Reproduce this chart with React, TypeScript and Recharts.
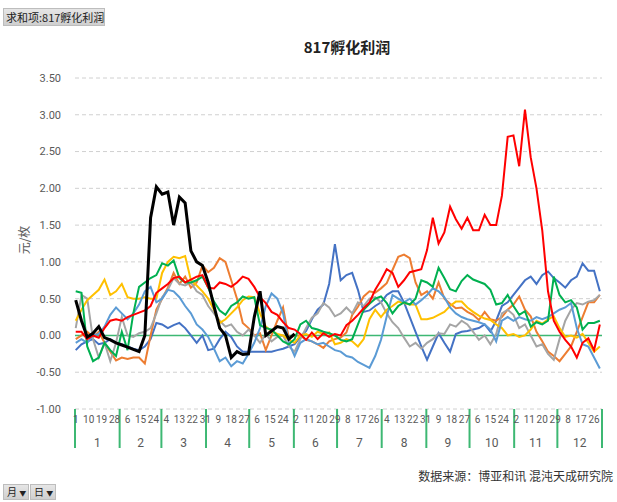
import React from "react";
import { LineChart, Line, XAxis, YAxis, CartesianGrid, ReferenceLine } from "recharts";

// 2020 is a leap year: one category per calendar day
const monthDays = [31, 29, 31, 30, 31, 30, 31, 31, 30, 31, 30, 31];
const monthNames = ["1", "2", "3", "4", "5", "6", "7", "8", "9", "10", "11", "12"];
const yTicks = [-1, -0.5, 0, 0.5, 1, 1.5, 2, 2.5, 3, 3.5];
const sampleStep = 4; // one reading every 4 days

// 元/枚, every 4 days from Jan 1
const y2013 = [
  -0.2, -0.12, -0.08, -0.05, -0.12, -0.1, -0.05, -0.1, -0.12, -0.15,
  -0.18, -0.2, -0.15, -0.05, 0.17, 0.15, 0.1, 0.14, 0.17, 0.1,
  0.0, -0.1, 0.0, -0.2, -0.18, -0.05, 0.05, -0.02, -0.15, -0.22,
  -0.22, -0.22, -0.22, -0.22, -0.22, -0.2, -0.18, -0.15, -0.12, -0.02,
  0.06, 0.22, 0.35, 0.42, 0.7, 1.24, 0.75, 0.82, 0.85, 0.62,
  0.32, 0.34, 0.4, 0.45, 0.55, 0.6, 0.6, 0.45, 0.25, 0.05,
  -0.15, -0.33, -0.15, 0.03, -0.1, -0.22, 0.02, 0.05, 0.06, 0.08,
  0.1, 0.15, 0.05, 0.2, 0.4, 0.45, 0.55, 0.65, 0.75, 0.8,
  0.7, 0.82, 0.87, 0.78, 0.72, 0.65, 0.75, 0.8, 0.98, 0.88,
  0.88, 0.6,
];
const y2014 = [
  -0.05, 0.0, 0.05, -0.02, 0.05, -0.1, -0.22, -0.34, -0.3, -0.32,
  -0.3, -0.3, -0.38, 0.0, 0.35, 0.5, 0.65, 0.85, 0.7, 0.8,
  0.65, 0.72, 0.95, 0.86, 0.92, 1.05, 1.0, 0.75, 0.5, 0.17,
  0.1, 0.0, 0.03, -0.2, 0.0, 0.2, 0.38, -0.04, 0.0, 0.0,
  -0.06, -0.08, -0.12, -0.17, -0.08, -0.05, -0.03, 0.04, 0.28, 0.39,
  0.53, 0.6, 0.58, 0.64, 0.71, 0.89, 1.07, 1.1, 1.05, 0.72,
  0.55, 0.6, 0.5, 0.72, 0.5, 0.43, 0.37, 0.38, 0.32, 0.28,
  0.21, 0.32, 0.22, 0.2, 0.25, 0.35, 0.42, 0.53, 0.35, 0.26,
  0.05, -0.08, -0.22, -0.28, -0.35, -0.25, -0.15, 0.05, 0.25, 0.45,
  0.45, 0.55,
];
const y2015 = [
  0.1, 0.55, 0.5, -0.05, -0.3, -0.1, -0.35, -0.1, 0.25, 0.0,
  -0.02, 0.03, 0.05, 0.1, 0.3, 0.52, 0.62, 0.78, 0.7, 0.68,
  0.72, 0.6, 0.55, 0.4, 0.3, 0.2, 0.12, 0.15, 0.05, 0.0,
  0.08, 0.0, -0.1, 0.02, -0.08, -0.02, 0.0, -0.15, -0.22, -0.05,
  0.1, 0.24, 0.3, 0.44, 0.38, 0.26, 0.3, 0.38, 0.3, 0.45,
  0.4, 0.5, 0.52, 0.45, 0.3, 0.18, 0.1, -0.03, -0.15, -0.1,
  -0.18, -0.1, -0.05, 0.03, 0.02, 0.15, 0.12, 0.2, 0.15, 0.05,
  -0.06, 0.0, -0.12, 0.02, 0.3, 0.35, 0.28, 0.1, 0.15, 0.0,
  -0.15, -0.12, -0.25, -0.33, -0.05, 0.2, 0.35, 0.44, 0.42, 0.46,
  0.48, 0.55,
];
const y2016 = [
  0.2, 0.35, 0.48, 0.55, 0.62, 0.76, 0.55, 0.6, 0.7, 0.52,
  0.5, 0.5, 0.52, 0.5, 0.5, 0.85, 1.0, 1.07, 1.05, 1.08,
  0.75, 0.68, 0.6, 0.5, 0.35, 0.17, 0.22, 0.3, 0.38, 0.48,
  0.53, 0.52, 0.3, 0.12, 0.06, 0.02, 0.0, -0.06, -0.1, 0.0,
  0.02, -0.02, 0.05, 0.02, 0.04, -0.12, -0.1, -0.05, -0.08, -0.15,
  -0.05, 0.22, 0.35, 0.25, 0.35, 0.4, 0.46, 0.44, 0.42, 0.42,
  0.22, 0.22, 0.24, 0.28, 0.32, 0.4, 0.46, 0.46, 0.38, 0.32,
  0.27, 0.23, 0.21, 0.15, 0.1, 0.0, 0.02, -0.02, 0.0, 0.08,
  0.2, 0.16, 0.22, 0.26, 0.1, -0.02, 0.0, -0.03, 0.02, -0.1,
  -0.22, -0.15,
];
const y2017 = [
  -0.1, -0.05, -0.1, 0.0, 0.02, 0.12, 0.28, 0.38, 0.3, 0.22,
  0.3, 0.42, 0.6, 0.66, 0.45, 0.5, 0.62, 0.6, 0.52, 0.4,
  0.3, 0.15, 0.08, -0.02, -0.18, -0.35, -0.3, -0.42, -0.35, -0.38,
  -0.25, -0.1, 0.1, 0.4, 0.57, 0.5, 0.3, -0.1, -0.28, -0.1,
  -0.05, -0.08, -0.12, -0.1, -0.15, -0.2, -0.22, -0.28, -0.3, -0.36,
  -0.4, -0.44, -0.28, -0.06, 0.26, 0.55, 0.5, 0.45, 0.5, 0.42,
  0.48, 0.55, 0.64, 0.6, 0.52, 0.38, 0.3, 0.25, 0.22, 0.2,
  0.18, 0.15, 0.08, -0.08, 0.2, 0.25, 0.2, 0.25, 0.22, 0.2,
  0.25, 0.22, 0.25, 0.3, 0.35, 0.38, 0.44, 0.1, -0.12, -0.15,
  -0.3, -0.45,
];
const y2018 = [
  0.6, 0.58, -0.15, -0.35, -0.3, -0.1, -0.2, -0.28, 0.05, -0.2,
  0.3, 0.66, 0.72, 0.78, 0.82, 0.98, 0.95, 1.02, 0.78, 0.72,
  0.72, 0.75, 0.8, 0.65, 0.46, 0.34, 0.28, 0.4, 0.45, 0.53,
  0.5, 0.52, 0.14, 0.1, 0.08, 0.0, -0.08, -0.12, -0.05, 0.15,
  0.2, 0.1, 0.08, 0.05, 0.03, 0.0, -0.06, -0.08, -0.05, 0.15,
  0.35, 0.43, 0.5, 0.53, 0.44, 0.3, 0.4, 0.45, 0.42, 0.5,
  0.75, 0.72, 0.66, 0.92, 0.78, 0.63, 0.6, 0.74, 0.82, 0.76,
  0.73, 0.7, 0.62, 0.42, 0.44, 0.55, 0.4, 0.28, 0.33, 0.12,
  0.18, 0.15, 0.2, 0.8, 0.55, 0.45, 0.48, 0.38, 0.08, 0.17,
  0.17, 0.2,
];
const y2019 = [
  0.05, 0.05, -0.05, 0.0, -0.03, 0.1, 0.2, 0.22, 0.2, 0.25,
  0.28, 0.31, 0.34, 0.4, 0.58, 0.64, 0.7, 0.78, 0.8, 0.72,
  0.76, 0.8, 0.82, 0.65, 0.64, 0.72, 0.7, 0.66, 0.72, 0.8,
  0.77, 0.66, 0.52, 0.44, 0.32, 0.28, 0.18, 0.1, 0.08, 0.02,
  -0.06, 0.04, -0.05, 0.03, -0.02, 0.02, 0.0, 0.14, 0.2, 0.28,
  0.37, 0.45, 0.62, 0.75, 0.9, 0.85, 0.66, 0.75, 0.86, 0.88,
  0.9, 1.16, 1.6, 1.25, 1.4, 1.75, 1.58, 1.45, 1.6, 1.43,
  1.43, 1.64, 1.5, 1.5, 1.9, 2.7, 2.72, 2.3, 3.07, 2.42,
  2.0, 1.43, 0.6, 0.2, 0.05, -0.06, -0.15, -0.3, -0.1, -0.04,
  -0.2, 0.15,
];
const y2020 = [
  0.48, 0.2, -0.02, 0.03, 0.12, -0.03, -0.06, -0.1, -0.13, -0.16,
  -0.19, -0.22, 0.0, 1.6, 2.02, 1.92, 1.95, 1.5, 1.88, 1.8,
  1.15, 1.0, 0.95, 0.72, 0.4, 0.1, 0.0, -0.3, -0.22, -0.26,
  -0.25, 0.25, 0.6, 0.0, 0.06, 0.12, 0.1, -0.05, 0.02,
];

const series = [
  { key: "y2013", values: y2013, color: "#4472C4", width: 2 },
  { key: "y2014", values: y2014, color: "#ED7D31", width: 2 },
  { key: "y2015", values: y2015, color: "#A5A5A5", width: 2 },
  { key: "y2016", values: y2016, color: "#FFC000", width: 2 },
  { key: "y2017", values: y2017, color: "#5B9BD5", width: 2 },
  { key: "y2018", values: y2018, color: "#00B050", width: 2 },
  { key: "y2019", values: y2019, color: "#FF0000", width: 2 },
  { key: "y2020", values: y2020, color: "#000000", width: 3 },
];

const rows = y2013.map((_, i) => {
  const row: Record<string, number | undefined> = { d: i * sampleStep };
  series.forEach((s) => {
    row[s.key] = s.values[i];
  });
  return row;
});

// month boundaries / centres in day-index units
const monthStarts = monthDays.map((_, m) => monthDays.slice(0, m).reduce((a, b) => a + b, 0));
const monthEdges = [...monthStarts.map((s) => s - 0.5), 365.5];
const monthCenters = monthStarts.map((s, m) => s - 0.5 + monthDays[m] / 2);
const dayTicks = Array.from({ length: 41 }, (_, i) => i * 9);

const dayOfMonth = (idx: number) => {
  let rest = Math.round(idx);
  for (const len of monthDays) {
    if (rest < len) return rest + 1;
    rest -= len;
  }
  return rest + 1;
};

const monthOf = (c: number) => {
  const i = monthCenters.findIndex((m) => Math.abs(m - c) < 1);
  return i >= 0 ? monthNames[i] : "";
};

const GREEN = "#3DB873";
const AXIS_TEXT = "#595959";

export default function App() {
  return (
    <div
      style={{
        position: "absolute",
        left: 0,
        top: 0,
        width: 617,
        height: 502,
        background: "#fff",
        fontFamily: "'Noto Sans CJK SC', 'Noto Sans', sans-serif",
        overflow: "hidden",
      }}
    >
      {/* pivot field button */}
      <div
        style={{
          position: "absolute",
          left: 3,
          top: 8,
          width: 102,
          height: 18,
          background: "linear-gradient(#e6e6e6, #cfcfcf)",
          border: "1px solid #bdbdbd",
          boxSizing: "border-box",
          fontSize: 11,
          lineHeight: "16px",
          paddingLeft: 2,
          color: "#222",
          whiteSpace: "nowrap",
        }}
      >
        求和项:817孵化利润
      </div>

      <div
        style={{
          position: "absolute",
          left: 0,
          width: 694,
          top: 36,
          textAlign: "center",
          fontSize: 15,
          fontWeight: 700,
          color: "#222",
        }}
      >
        817孵化利润
      </div>

      <div
        style={{
          position: "absolute",
          left: 23,
          top: 240,
          transform: "translate(-50%, -50%) rotate(-90deg)",
          fontSize: 12,
          color: AXIS_TEXT,
          whiteSpace: "nowrap",
        }}
      >
        元/枚
      </div>

      <LineChart
        width={617}
        height={502}
        data={rows}
        margin={{ top: 78, right: 15, bottom: 44, left: 25 }}
        style={{ position: "absolute", left: 0, top: 0 }}
      >
        <CartesianGrid
          xAxisId="day"
          vertical={false}
          stroke="#d0d0d0"
          strokeDasharray="4 3"
        />
        <XAxis
          xAxisId="aSep"
          type="number"
          dataKey="d"
          domain={[-0.5, 365.5]}
          ticks={monthEdges}
          interval={0}
          height={1}
          axisLine={false}
          tickSize={39}
          tickLine={{ stroke: GREEN, strokeWidth: 2 }}
          tick={() => <g />}
        />
        <XAxis
          xAxisId="day"
          type="number"
          dataKey="d"
          domain={[-0.5, 365.5]}
          ticks={dayTicks}
          interval={0}
          height={22}
          axisLine={false}
          tickLine={false}
          tickSize={0}
          tickMargin={6}
          tickFormatter={dayOfMonth}
          tick={{ fontSize: 10, fill: AXIS_TEXT, fontFamily: "Roboto, sans-serif" }}
        />
        <XAxis
          xAxisId="mon"
          type="number"
          dataKey="d"
          domain={[-0.5, 365.5]}
          ticks={monthCenters}
          interval={0}
          height={26}
          axisLine={false}
          tickLine={false}
          tickSize={0}
          tickMargin={6}
          tickFormatter={monthOf}
          tick={{ fontSize: 12, fill: AXIS_TEXT, fontFamily: "Roboto, sans-serif" }}
        />
        <YAxis
          type="number"
          domain={[-1, 3.5]}
          ticks={yTicks}
          interval={0}
          width={50}
          axisLine={false}
          tickLine={false}
          tickSize={0}
          tickMargin={14}
          tickFormatter={(v: number) => v.toFixed(2)}
          tick={{ fontSize: 11, fill: AXIS_TEXT, fontFamily: "Roboto, sans-serif" }}
        />
        <ReferenceLine xAxisId="day" y={0} stroke={GREEN} strokeWidth={1.5} />
        {series.map((s) => (
          <Line
            key={s.key}
            xAxisId="day"
            dataKey={s.key}
            type="linear"
            stroke={s.color}
            strokeWidth={s.width}
            dot={false}
            activeDot={false}
            isAnimationActive={false}
          />
        ))}
      </LineChart>

      <div
        style={{
          position: "absolute",
          right: 4,
          top: 467,
          fontSize: 12,
          color: "#333",
          whiteSpace: "nowrap",
        }}
      >
        数据来源：博亚和讯 混沌天成研究院
      </div>

      {["月", "日"].map((t, i) => (
        <div
          key={t}
          style={{
            position: "absolute",
            left: 3 + i * 27,
            top: 484,
            width: 26,
            height: 16,
            background: "linear-gradient(#e6e6e6, #cfcfcf)",
            border: "1px solid #bdbdbd",
            boxSizing: "border-box",
            fontSize: 10,
            lineHeight: "14px",
            paddingLeft: 3,
            color: "#222",
          }}
        >
          {t} <span style={{ fontSize: 7 }}>▼</span>
        </div>
      ))}
    </div>
  );
}
